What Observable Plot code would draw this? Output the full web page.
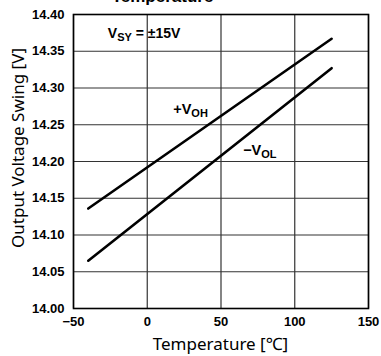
<!DOCTYPE html>
<html>
<head>
<meta charset="utf-8">
<script src="https://cdn.jsdelivr.net/npm/d3@7"></script>
<script src="https://cdn.jsdelivr.net/npm/@observablehq/plot@0.6"></script>
<style>
  html, body { margin: 0; padding: 0; background: #fff; }
  #chart { width: 381px; height: 356px; overflow: hidden; }
</style>
</head>
<body>
<div id="chart"></div>
<script>
// Output voltage swing vs. temperature, VSY = ±15 V
const temperature = [-40, 125];          // °C
const vohSeries = [14.136, 14.367];      // +VOH [V]
const volSeries = [14.065, 14.327];      // −VOL [V]

const xTicks = [-50, 0, 50, 100, 150];
const yTicks = [14.00, 14.05, 14.10, 14.15, 14.20, 14.25, 14.30, 14.35, 14.40];

// In-plot annotations: main text, subscript, trailing text
const labelMain = ["V", "+V", "\u2212V"];
const labelSub = ["SY", "OH", "OL"];
const labelRest = [" = \u00b115V", "", ""];
const labelTemp = [-26.7, 17.6, 65];
const labelVolt = [14.374, 14.271, 14.215];

const titleText = "Temperature";
const xTitle = "Temperature [\u2103]";
const yTitle = "Output Voltage Swing [V]";

const lines = temperature.flatMap((t, i) => [
  {series: "voh", t, v: vohSeries[i]},
  {series: "vol", t, v: volSeries[i]}
]);
const labels = labelMain.map((m, i) => ({
  full: m + labelSub[i] + labelRest[i],
  t: labelTemp[i], v: labelVolt[i], i
}));

const W = 381, H = 356;
const mL = 73, mR = 13, mT = 14, mB = 48;
const sansBold = "'Liberation Sans', Arial, Helvetica, sans-serif";
const sansText = "'Noto Sans', 'Noto Sans CJK SC', sans-serif";

const plot = Plot.plot({
  width: W, height: H,
  marginLeft: mL, marginRight: mR, marginTop: mT, marginBottom: mB,
  style: {fontFamily: sansBold, fontSize: "13px", fontWeight: "bold", background: "#fff", color: "#000"},
  x: {domain: [-50, 150]},
  y: {domain: [14.0, 14.4]},
  marks: [
    Plot.gridX(xTicks, {stroke: "#333", strokeOpacity: 1, strokeWidth: 1.2}),
    Plot.gridY(yTicks, {stroke: "#333", strokeOpacity: 1, strokeWidth: 1.2}),
    Plot.line(lines, {x: "t", y: "v", z: "series", stroke: "#000", strokeWidth: 2.6}),
    Plot.text(labels, {
      x: "t", y: "v", text: "full", textAnchor: "start", lineAnchor: "middle",
      fontSize: d => d.i === 0 ? 14 : 14.5, fill: "#000"
    }),
    Plot.frame({stroke: "#000", strokeWidth: 1.6}),
    Plot.axisX({ticks: xTicks, tickSize: 0, tickPadding: 8, tickFormat: d3.format("d"), label: null}),
    Plot.axisY({ticks: yTicks, tickSize: 0, tickPadding: 9, tickFormat: d3.format(".2f"), label: null})
  ]
});

document.getElementById("chart").appendChild(plot);
const svg = d3.select(plot);

// Subscripts for the annotation labels; the supply label sits on a white box
svg.selectAll("text").each(function () {
  const el = this;
  const lab = labels.find(l => l.full === el.textContent);
  if (!lab) return;
  const s = d3.select(el);
  s.text(null);
  s.append("tspan").text(labelMain[lab.i]);
  s.append("tspan").attr("font-size", 11).attr("dy", 3).text(labelSub[lab.i]);
  if (labelRest[lab.i]) {
    s.append("tspan").attr("dy", -3).text(labelRest[lab.i]);
  }
  if (lab.i === 0) {
    const b = el.getBBox();
    const g = el.parentNode;
    d3.select(g).insert("rect", () => g.firstChild)
      .attr("x", b.x - 4).attr("y", b.y - 5)
      .attr("width", b.width + 8).attr("height", b.height + 8)
      .attr("fill", "#fff").attr("stroke", "none");
  }
});

// Chart title (second line, cut by the top edge), axis titles
svg.append("text")
  .attr("x", 162.5).attr("y", 1.5)
  .attr("text-anchor", "middle")
  .attr("font-family", sansBold).attr("font-weight", "bold").attr("font-size", 17)
  .text(titleText);

svg.append("text")
  .attr("x", (mL + W - mR) / 2).attr("y", 350)
  .attr("text-anchor", "middle")
  .attr("font-family", sansText)
  .attr("font-weight", "normal").attr("font-size", 17)
  .text(xTitle);

svg.append("text")
  .attr("transform", "translate(24,148) rotate(-90)")
  .attr("text-anchor", "middle")
  .attr("font-family", sansText)
  .attr("font-weight", "normal").attr("font-size", 17)
  .text(yTitle);
</script>
</body>
</html>
